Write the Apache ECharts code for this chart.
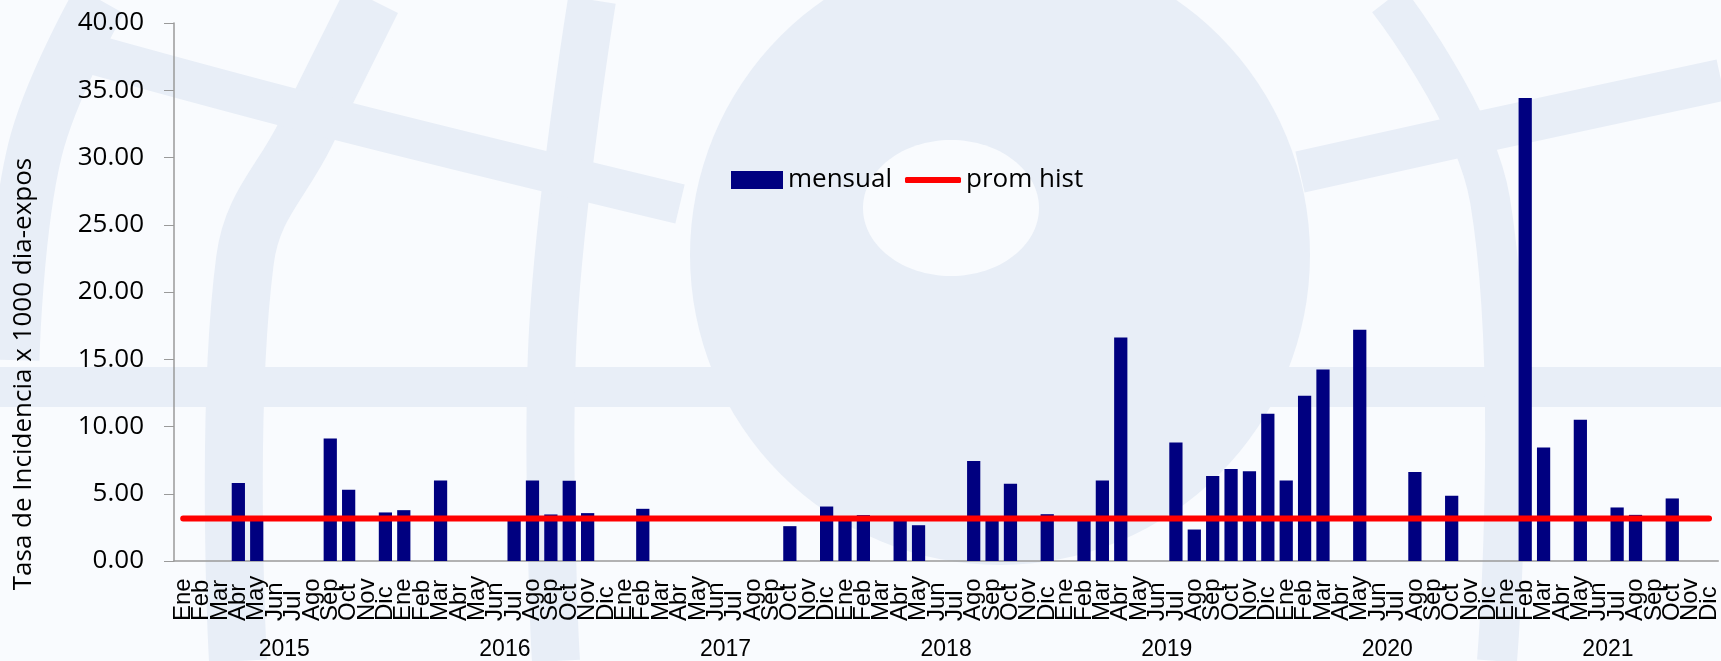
<!DOCTYPE html>
<html>
<head>
<meta charset="utf-8">
<script src="https://cdn.jsdelivr.net/npm/echarts@6/dist/echarts.min.js"></script>
<style>
  html, body { margin: 0; padding: 0; background: #f9fbfe; }
  #chart { width: 1721px; height: 661px; }
</style>
</head>
<body>
<div id="chart"></div>
<script>
const YEARS = ['2015', '2016', '2017', '2018', '2019', '2020', '2021']
const MONTHS = ['Ene', 'Feb', 'Mar', 'Abr', 'May', 'Jun', 'Jul', 'Ago', 'Sep', 'Oct', 'Nov', 'Dic']

// tasa mensual por año (0 = sin casos)
const MENSUAL_2015 = [0, 0, 0, 5.80, 3.10, 0, 0, 0, 9.10, 5.30, 0, 3.61]
const MENSUAL_2016 = [3.78, 0, 5.99, 0, 0, 0, 3.10, 5.99, 3.46, 5.97, 3.56, 0]
const MENSUAL_2017 = [0, 3.88, 0, 0, 0, 0, 0, 0, 0, 2.59, 0, 4.05]
const MENSUAL_2018 = [3.10, 3.41, 0, 3.10, 2.66, 0, 0, 7.44, 3.10, 5.75, 0, 3.48]
const MENSUAL_2019 = [0, 3.10, 5.99, 16.62, 0, 0, 8.81, 2.34, 6.32, 6.84, 6.67, 10.95]
const MENSUAL_2020 = [5.99, 12.29, 14.23, 0, 17.19, 0, 0, 6.62, 0, 4.85, 0, 0]
const MENSUAL_2021 = [0, 34.43, 8.43, 0, 10.50, 0, 3.98, 3.43, 0, 4.65, 0, 0]

const PROM_HIST = 3.16
const Y_MIN = 0
const Y_MAX = 40
const Y_STEP = 5

const categories = []
YEARS.forEach(y => MONTHS.forEach(m => categories.push(m)))
const mensual = [].concat(MENSUAL_2015, MENSUAL_2016, MENSUAL_2017, MENSUAL_2018,
    MENSUAL_2019, MENSUAL_2020, MENSUAL_2021)
const promHist = categories.map(() => PROM_HIST)

const BG = '#f9fbfe'
const WM = '#e8eef7'
const band = (points, width) => ({
    type: 'polyline', z: -10, silent: true,
    shape: { points: points, smooth: 0.4 },
    style: { stroke: WM, lineWidth: width, fill: null }
})

const legendText = { fontFamily: 'Open Sans', fontSize: 26, color: '#000', lineHeight: 30 }

const chart = echarts.init(document.getElementById('chart'))
const option = {
    backgroundColor: BG,
    animation: false,
    graphic: [
        // marca de agua de fondo
        { type: 'circle', z: -11, silent: true, shape: { cx: 1000, cy: 255, r: 310 }, style: { fill: WM } },
        { type: 'ellipse', z: -10, silent: true, shape: { cx: 951, cy: 208, rx: 88, ry: 68 }, style: { fill: BG } },
        { type: 'rect', z: -10, silent: true, shape: { x: 0, y: 367, width: 1721, height: 40 }, style: { fill: WM } },
        band([[372, 0], [306, 133], [245, 260], [238, 661]], 58),
        band([[592, 0], [553, 330], [556, 661]], 48),
        band([[95, 55], [330, 118], [680, 204]], 40),
        band([[100, 0], [35, 150], [12, 360]], 55),
        band([[1388, 0], [1490, 200], [1497, 661]], 40),
        band([[1300, 172], [1480, 132], [1721, 80]], 42),
        {
            type: 'text', z: 10, x: 24, y: 374, rotation: Math.PI / 2,
            style: {
                text: 'Tasa de Incidencia x 1000 dia-expos',
                font: '26px "Open Sans"', fill: '#000',
                align: 'center', verticalAlign: 'middle'
            }
        }
    ],
    legend: [{
        left: 726,
        top: 160,
        itemWidth: 52,
        itemHeight: 18,
        textStyle: legendText,
        data: [{ name: 'mensual', icon: 'rect' }]
    }, {
        left: 900,
        top: 160,
        itemWidth: 56,
        itemHeight: 6,
        textStyle: legendText,
        data: [{ name: 'prom hist', icon: 'roundRect' }]
    }],
    grid: {
        left: 174,
        top: 23,
        width: 1551,
        bottom: 100,
        containLabel: false
    },
    xAxis: [{
        type: 'category',
        data: categories,
        position: 'bottom',
        axisLine: { lineStyle: { color: '#9a9a9a', width: 1.5 } },
        axisTick: { length: 61, lineStyle: { color: '#a6a6a6' } },
        axisLabel: {
            interval: 0,
            rotate: 90,
            align: 'left',
            margin: 60,
            fontFamily: 'Liberation Sans',
            fontSize: 24,
            color: '#000'
        }
    }, {
        type: 'category',
        data: YEARS,
        position: 'bottom',
        axisLine: { show: false },
        axisTick: { length: 105, lineStyle: { color: '#a6a6a6' } },
        axisLabel: {
            margin: 77,
            fontFamily: 'Liberation Sans',
            fontSize: 23,
            color: '#000'
        }
    }],
    yAxis: {
        type: 'value',
        min: Y_MIN,
        max: Y_MAX,
        interval: Y_STEP,
        axisLine: { show: true, lineStyle: { color: '#9a9a9a', width: 1.5 } },
        axisTick: { show: true, length: 10, lineStyle: { color: '#9a9a9a' } },
        splitLine: { show: false },
        axisLabel: {
            margin: 30,
            fontFamily: 'Open Sans',
            fontSize: 26,
            color: '#000',
            formatter: v => v.toFixed(2)
        }
    },
    series: [{
        name: 'mensual',
        type: 'bar',
        xAxisIndex: 0,
        barWidth: '72%',
        itemStyle: { color: '#000080' },
        data: mensual
    }, {
        name: 'prom hist',
        type: 'line',
        xAxisIndex: 0,
        symbol: 'none',
        z: 5,
        lineStyle: { color: '#ff0000', width: 6, cap: 'round' },
        itemStyle: { color: '#ff0000' },
        data: promHist
    }]
}
chart.setOption(option)
</script>
</body>
</html>
